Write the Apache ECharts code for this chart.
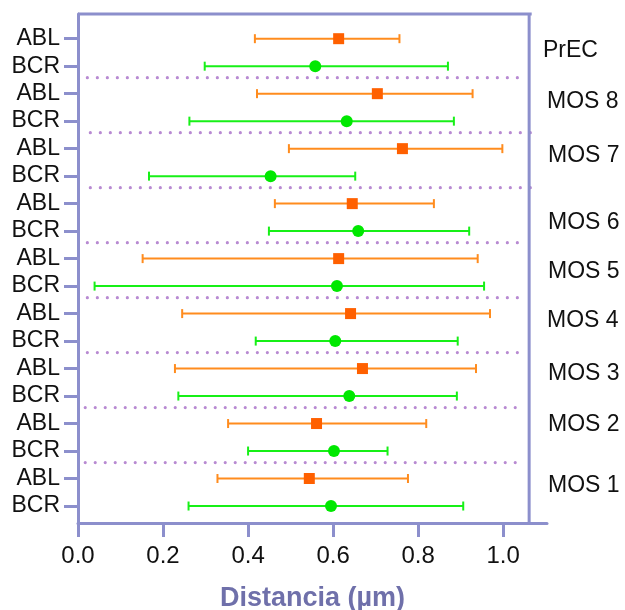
<!DOCTYPE html>
<html><head><meta charset="utf-8">
<script src="https://cdn.jsdelivr.net/npm/echarts@6/dist/echarts.min.js"></script>
<style>html,body{margin:0;padding:0;background:#fff}#c{width:625px;height:610px}</style>
</head><body><div id="c"></div>
<script>
// ---- data (bottom to top) ----
const groups   = ['MOS 1','MOS 2','MOS 3','MOS 4','MOS 5','MOS 6','MOS 7','MOS 8','PrEC'];
const rowLabels = ['BCR','ABL','BCR','ABL','BCR','ABL','BCR','ABL','BCR','ABL','BCR','ABL','BCR','ABL','BCR','ABL','BCR','ABL'];
const ablMean = [0.544, 0.561, 0.669, 0.641, 0.613, 0.645, 0.763, 0.704, 0.613];
const ablLow  = [0.328, 0.353, 0.228, 0.245, 0.152, 0.463, 0.496, 0.421, 0.416];
const ablHigh = [0.776, 0.819, 0.936, 0.969, 0.940, 0.837, 0.998, 0.928, 0.756];
const bcrMean = [0.595, 0.602, 0.638, 0.605, 0.609, 0.659, 0.453, 0.632, 0.558];
const bcrLow  = [0.260, 0.400, 0.236, 0.418, 0.039, 0.449, 0.167, 0.262, 0.298];
const bcrHigh = [0.906, 0.728, 0.891, 0.893, 0.955, 0.920, 0.652, 0.884, 0.870];
const xTicks  = [0, 0.2, 0.4, 0.6, 0.8, 1.0];
const xTitle  = 'Distancia (µm)';

// ---- layout / style ----
const AXIS = '#8c8fcc';
const FONT = 'Liberation Sans, Arial, sans-serif';
const X_MAX = 1.103, Y_MIN = 0.382, Y_MAX = 18.898;
const FRAME_RIGHT = 1.061, TOP_END = 1.067;
const labelShiftPx = [7, 13, 8.5, 6.5, 1, -5.5, 7, 6, 1.5];
const labelDx = [1, 1, 1, 0, 1, 1, 1, 0, -4];
const sepStart = [0.017, 0.017, 0.022, 0.022, 0.022, 0.029, 0.029, 0.022];
const sepEnd   = [1.040, 1.040, 1.047, 1.047, 1.047, 1.075, 1.070, 1.047];
const ORANGE_LINE = '#ff8c1e', ORANGE_MARK = '#ff6000';
const GREEN_LINE = '#17f017', GREEN_MARK = '#00e800';

const rowsAbl = groups.map((g, i) => 2 * i + 2);
const rowsBcr = groups.map((g, i) => 2 * i + 1);
const rowTicks = rowLabels.map((l, i) => i + 1);

function errRenderer(color) {
  return function (params, api) {
    const y = api.value(2);
    const p1 = api.coord([api.value(0), y]);
    const p2 = api.coord([api.value(1), y]);
    const h = 4.5;
    const st = { stroke: color, lineWidth: 2 };
    return { type: 'group', children: [
      { type: 'line', shape: { x1: p1[0], y1: p1[1], x2: p2[0], y2: p2[1] }, style: st },
      { type: 'line', shape: { x1: p1[0], y1: p1[1] - h, x2: p1[0], y2: p1[1] + h }, style: st },
      { type: 'line', shape: { x1: p2[0], y1: p2[1] - h, x2: p2[0], y2: p2[1] + h }, style: st }
    ]};
  };
}

const chart = echarts.init(document.getElementById('c'));
chart.setOption({
  animation: false,
  grid: { left: 78, right: 78, top: 14, bottom: 87, containLabel: false, outerBoundsMode: 'none' },
  xAxis: {
    type: 'value', min: 0, max: X_MAX,
    axisLine: { show: true, lineStyle: { color: AXIS, width: 3 } },
    axisTick: { show: true, length: 14, customValues: xTicks, lineStyle: { color: AXIS, width: 3 } },
    axisLabel: { customValues: xTicks, formatter: v => v.toFixed(1), fontSize: 24, color: '#111', fontFamily: FONT, margin: 21 },
    splitLine: { show: false },
    name: xTitle, nameLocation: 'middle', nameGap: 62,
    nameTextStyle: { fontSize: 27, fontWeight: 'bold', color: '#6f70aa', fontFamily: FONT }
  },
  yAxis: {
    type: 'value', min: Y_MIN, max: Y_MAX,
    axisLine: { show: true, lineStyle: { color: AXIS, width: 3 } },
    axisTick: { show: true, length: 14, customValues: rowTicks, lineStyle: { color: AXIS, width: 3 } },
    axisLabel: { customValues: rowTicks, formatter: v => rowLabels[Math.round(v) - 1], fontSize: 23, color: '#111', fontFamily: FONT, margin: 18 },
    splitLine: { show: false }
  },
  series: [
    { // separators
      type: 'custom', silent: true, clip: false, z: 1,
      data: groups.slice(0, groups.length - 1).map((g, i) => [sepStart[i], sepEnd[i], 2 * i + 2.5 + 0.08]),
      encode: { x: [0, 1], y: 2 },
      renderItem: function (params, api) {
        const y = api.value(2);
        const p1 = api.coord([api.value(0), y]);
        const p2 = api.coord([api.value(1), y]);
        return { type: 'line', shape: { x1: p1[0], y1: p1[1], x2: p2[0], y2: p2[1] },
          style: { stroke: '#b88ad2', lineWidth: 3.2, lineDash: [0, 10], lineCap: 'round' } };
      }
    },
    { // frame top & right
      type: 'custom', silent: true, clip: false, z: 3,
      data: [[0, Y_MIN]],
      renderItem: function (params, api) {
        const tl = api.coord([0, Y_MAX]);
        const tr = api.coord([TOP_END, Y_MAX]);
        const rt = api.coord([FRAME_RIGHT, Y_MAX]);
        const rb = api.coord([FRAME_RIGHT, Y_MIN]);
        const st = { stroke: AXIS, lineWidth: 3 };
        return { type: 'group', children: [
          { type: 'line', shape: { x1: tl[0], y1: tl[1], x2: tr[0], y2: tr[1] }, style: st },
          { type: 'line', shape: { x1: rt[0], y1: rt[1], x2: rb[0], y2: rb[1] }, style: st }
        ]};
      }
    },
    { type: 'custom', silent: true, clip: false, z: 4,
      data: groups.map((g, i) => [ablLow[i], ablHigh[i], rowsAbl[i]]),
      encode: { x: [0, 1], y: 2 }, renderItem: errRenderer(ORANGE_LINE) },
    { type: 'custom', silent: true, clip: false, z: 4,
      data: groups.map((g, i) => [bcrLow[i], bcrHigh[i], rowsBcr[i]]),
      encode: { x: [0, 1], y: 2 }, renderItem: errRenderer(GREEN_LINE) },
    { type: 'scatter', z: 5, symbol: 'rect', symbolSize: 11, itemStyle: { color: ORANGE_MARK, opacity: 1 },
      data: groups.map((g, i) => [ablMean[i], rowsAbl[i]]) },
    { type: 'scatter', z: 5, symbol: 'circle', symbolSize: 12, itemStyle: { color: GREEN_MARK, opacity: 1 },
      data: groups.map((g, i) => [bcrMean[i], rowsBcr[i]]) },
    { // group labels
      type: 'custom', silent: true, clip: false, z: 6,
      data: groups.map((g, i) => [X_MAX, 2 * i + 1.5, i]),
      renderItem: function (params, api) {
        const i = api.value(2);
        const p = api.coord([api.value(0), api.value(1)]);
        return { type: 'text', x: p[0] + labelDx[i], y: p[1] - labelShiftPx[i],
          style: { text: groups[i], fontSize: 23, fill: '#111', fontFamily: FONT, align: 'left', verticalAlign: 'middle' } };
      }
    }
  ]
});
</script>
</body></html>
